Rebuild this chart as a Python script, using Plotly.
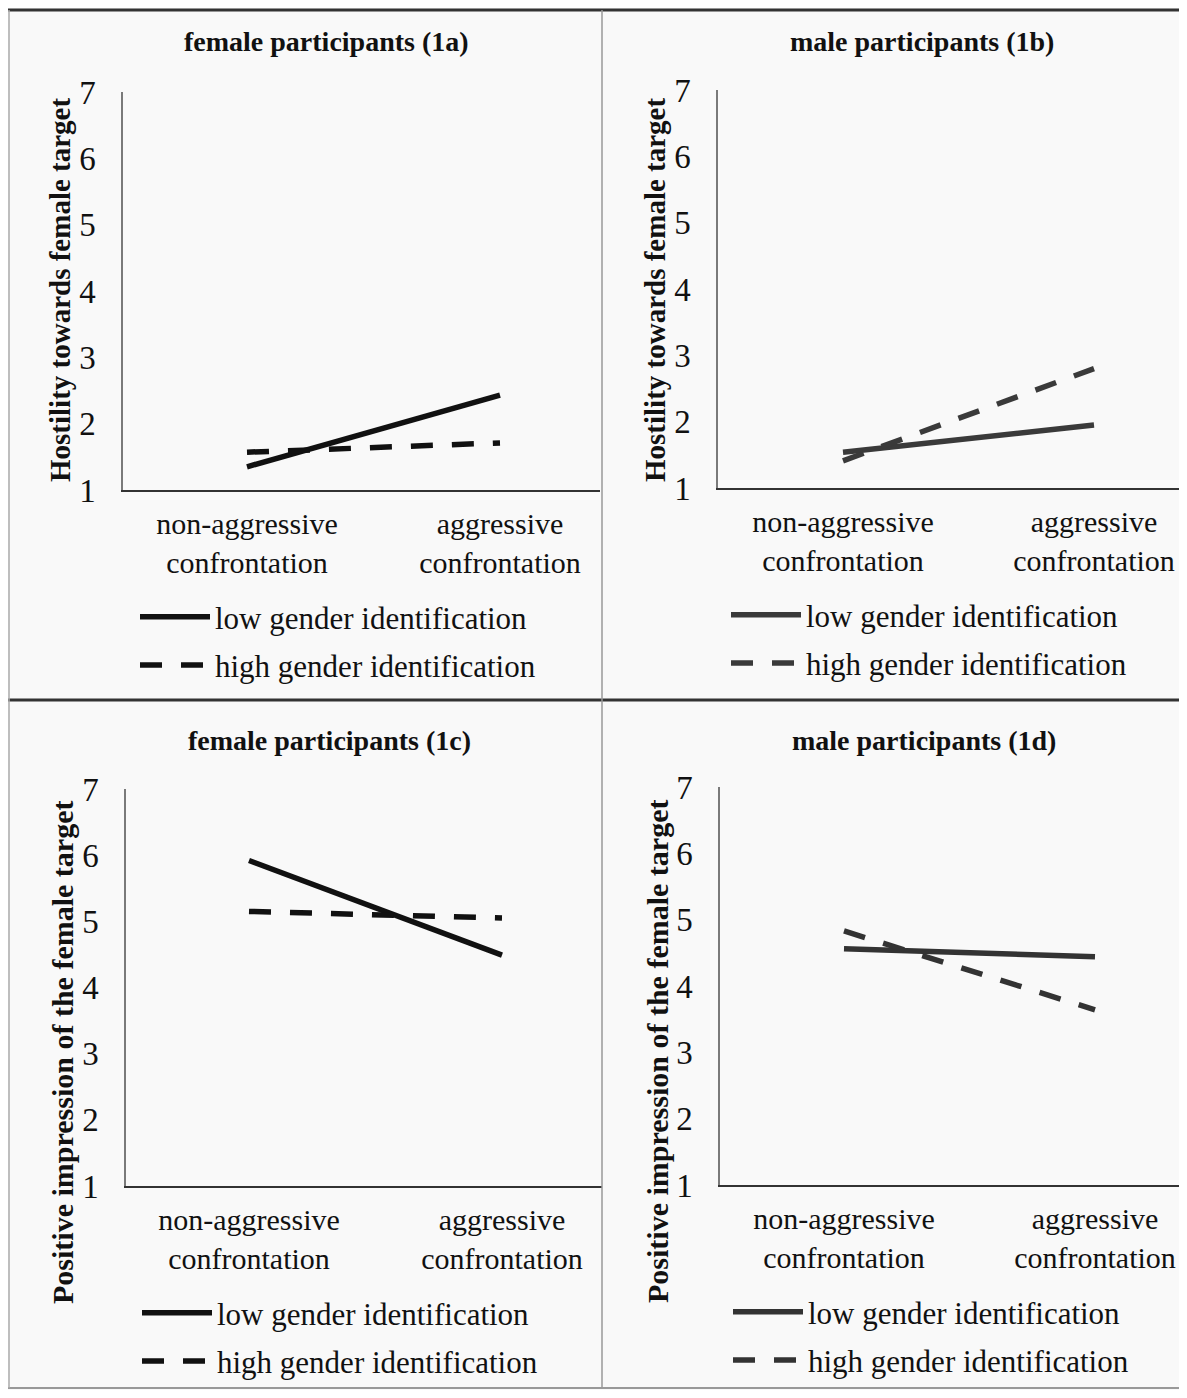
import plotly.graph_objects as go

# page is offset by the browser's 8px body margin; figure sized to fit inside the window
OFF = 8
FW, FH = 1171, 1382

categories = ["non-aggressive<br>confrontation", "aggressive<br>confrontation"]
y_ticks = [1, 2, 3, 4, 5, 6, 7]

hostility_female_low = [1.35, 2.43]
hostility_female_high = [1.57, 1.71]
hostility_male_low = [1.54, 1.95]
hostility_male_high = [1.41, 2.80]
impression_female_low = [5.92, 4.49]
impression_female_high = [5.15, 5.05]
impression_male_low = [4.56, 4.44]
impression_male_high = [4.83, 3.64]

panel_titles = ["female participants (1a)", "male participants (1b)",
                "female participants (1c)", "male participants (1d)"]
y_titles = ["Hostility towards female target", "Hostility towards female target",
            "Positive impression of the female target", "Positive impression of the female target"]
series_names = ["low gender identification", "high gender identification"]

SERIF = "Liberation Serif, Times New Roman, serif"


def px(x):
    return min(max((x - OFF) / FW, 0), 1)


def py(y):
    return min(max(1 - (y - OFF) / FH, 0), 1)


# panel geometry in page pixels: (axis_left, axis_right, y_of_1, y_of_7, cat0_x, cat1_x)
panels = [
    (123, 600, 490, 92, 247, 500),
    (718, 1187, 488, 90, 843, 1094),
    (126, 602, 1186, 789, 249, 502),
    (720, 1187, 1185, 787, 844, 1095),
]
data = [
    (hostility_female_low, hostility_female_high),
    (hostility_male_low, hostility_male_high),
    (impression_female_low, impression_female_high),
    (impression_male_low, impression_male_high),
]
colors = ["#111111", "#3a3a3a", "#111111", "#333333"]
title_pos = [(326, 42), (922, 42), (329, 740), (924, 740)]
ytitle_pos = [(60, 290), (655, 290), (62, 1053), (657, 1052)]
ytitle_size = [29, 29, 30, 30]
legend_pos = [(135, 590), (726, 588), (137, 1286), (728, 1285)]

fig = go.Figure()
layout = {}
annotations = []

for i, ((al, ar, y1, y7, c0, c1), (low, high)) in enumerate(zip(panels, data)):
    n = "" if i == 0 else str(i + 1)
    scale = c1 - c0
    ar_eff = min(ar, OFF + FW)
    xr = [(al - c0) / scale, (ar_eff - c0) / scale]
    legend_name = "legend" if i == 0 else f"legend{i+1}"
    for j, (vals, dash) in enumerate([(low, "solid"), (high, "22px,19px")]):
        fig.add_trace(go.Scatter(
            x=[0, 1], y=vals, mode="lines",
            line=dict(color=colors[i], width=5.5, dash=dash),
            name=series_names[j],
            xaxis="x" + n, yaxis="y" + n,
            legend=legend_name, legendgroup=f"g{i}_{j}",
            showlegend=True, hoverinfo="skip",
        ))
    layout["xaxis" + n] = dict(
        domain=[px(al), px(ar_eff)], range=xr, anchor="y" + n,
        tickmode="array", tickvals=[0, 1], ticktext=categories,
        showline=True, linecolor="#333333", linewidth=2,
        showgrid=False, zeroline=False, ticks="",
        ticklabelstandoff=6,
        tickfont=dict(family=SERIF, size=30, color="#111111"),
    )
    layout["yaxis" + n] = dict(
        domain=[py(y1), py(y7)], range=[1, 7], anchor="x" + n,
        tickmode="array", tickvals=y_ticks,
        showline=True, linecolor="#7a7a7a", linewidth=1.5,
        showgrid=False, zeroline=False, ticks="",
        ticklabelstandoff=19,
        tickfont=dict(family=SERIF, size=33, color="#111111"),
    )
    lx, ly = legend_pos[i]
    layout[legend_name] = dict(
        x=px(lx), y=py(ly), xanchor="left", yanchor="top",
        bgcolor="rgba(0,0,0,0)", borderwidth=0,
        font=dict(family=SERIF, size=31, color="#111111"),
        itemwidth=70, tracegroupgap=5,
    )
    tx, ty = title_pos[i]
    annotations.append(dict(
        text=f"<b>{panel_titles[i]}</b>", x=px(tx), y=py(ty),
        xref="paper", yref="paper", showarrow=False,
        xanchor="center", yanchor="middle",
        font=dict(family=SERIF, size=28, color="#111111"),
    ))
    yx, yy = ytitle_pos[i]
    annotations.append(dict(
        text=f"<b>{y_titles[i]}</b>", x=px(yx), y=py(yy),
        xref="paper", yref="paper", showarrow=False, textangle=-90,
        xanchor="center", yanchor="middle",
        font=dict(family=SERIF, size=ytitle_size[i], color="#111111"),
    ))

shapes = [
    dict(type="line", xref="paper", yref="paper", x0=0, x1=1, y0=py(10), y1=py(10),
         line=dict(color="#333333", width=3)),
    dict(type="line", xref="paper", yref="paper", x0=0, x1=1, y0=py(700), y1=py(700),
         line=dict(color="#333333", width=3)),
    dict(type="line", xref="paper", yref="paper", x0=0, x1=1, y0=py(1388), y1=py(1388),
         line=dict(color="#999999", width=2)),
    dict(type="line", xref="paper", yref="paper", x0=px(602), x1=px(602), y0=py(10), y1=py(1388),
         line=dict(color="#999999", width=1.5)),
    dict(type="line", xref="paper", yref="paper", x0=px(9), x1=px(9), y0=py(10), y1=py(1388),
         line=dict(color="#aaaaaa", width=1.5)),
]

fig.update_layout(
    width=FW, height=FH, autosize=False,
    margin=dict(l=0, r=0, t=0, b=0, autoexpand=False),
    paper_bgcolor="#f9f9f9", plot_bgcolor="rgba(0,0,0,0)",
    annotations=annotations, shapes=shapes,
    **layout,
)

fig.write_html("out.html")
